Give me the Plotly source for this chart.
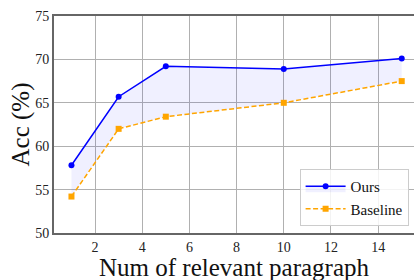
import plotly.graph_objects as go

x_vals = [1, 3, 5, 10, 15]
ours = [57.8, 65.7, 69.2, 68.9, 70.1]
baseline = [54.2, 62.0, 63.4, 65.0, 67.5]
x_ticks = [2, 4, 6, 8, 10, 12, 14]
y_ticks = [50, 55, 60, 65, 70, 75]
x_title = "Num of relevant paragraph"
y_title = "Acc (%)"

FONT = "Liberation Serif"

fig = go.Figure()
fig.add_trace(go.Scatter(
    x=x_vals, y=baseline, name="Baseline", mode="lines+markers",
    line=dict(color="orange", width=1.5, dash="5px,2.5px"),
    marker=dict(symbol="square", size=6, color="orange"),
))
fig.add_trace(go.Scatter(
    x=x_vals, y=ours, name="Ours", mode="lines+markers",
    line=dict(color="blue", width=1.5),
    marker=dict(symbol="circle", size=6, color="blue"),
    fill="tonexty", fillcolor="rgba(0,0,255,0.06)",
))

axis_common = dict(
    showgrid=True, gridcolor="#b0b0b0", gridwidth=1,
    showline=True, linecolor="#666666", linewidth=2, mirror=True,
    ticks="", 
    tickfont=dict(family=FONT, size=14, color="#222"),
    zeroline=False, automargin=False,
)

fig.update_layout(
    width=414, height=280,
    margin=dict(l=54, r=0, t=16, b=47),
    paper_bgcolor="white", plot_bgcolor="white",
    font=dict(family=FONT, color="#111"),
    xaxis=dict(range=[0.26, 15.52], tickvals=x_ticks, **axis_common),
    yaxis=dict(range=[50, 75], tickvals=y_ticks, **axis_common),
    legend=dict(x=0.985, y=0.032, xanchor="right", yanchor="bottom",
                bgcolor="rgba(255,255,255,0.85)", bordercolor="#cccccc", borderwidth=1,
                font=dict(family=FONT, size=15), traceorder="reversed",
                itemwidth=40),
    showlegend=True,
    annotations=[
        dict(text=x_title, xref="paper", yref="paper", x=0.5, y=0,
             xanchor="center", yanchor="top", yshift=-19, showarrow=False,
             font=dict(family=FONT, size=25, color="#111")),
        dict(text=y_title, xref="paper", yref="paper", x=0, y=0.5,
             xanchor="center", yanchor="middle", xshift=-34, showarrow=False,
             textangle=-90, font=dict(family=FONT, size=25, color="#111")),
    ],
)

fig.write_html("out.html", config={"displayModeBar": False},
               post_script="document.body.style.margin='0';document.body.style.padding='0';")
